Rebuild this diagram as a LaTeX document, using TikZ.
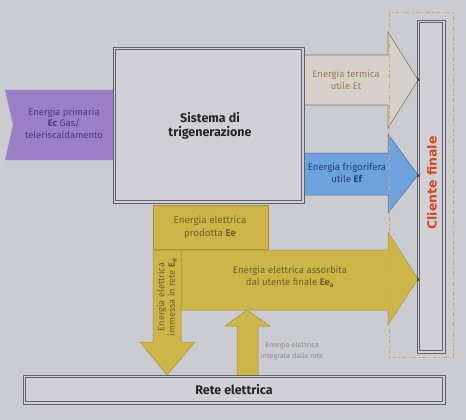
\documentclass[tikz,border=0pt]{standalone}
\usepackage{fontspec}
\setmainfont{Fira Sans}
\newfontfamily\boldsans{DejaVu Sans}
\definecolor{bg}{HTML}{CBCBD2}
\definecolor{boxfill}{HTML}{D0D0D6}
\definecolor{frame}{HTML}{626268}
\definecolor{purp}{HTML}{9A7EC6}
\definecolor{purptext}{HTML}{4A3A88}
\definecolor{bluefill}{HTML}{6EA2DE}
\definecolor{bluetext}{HTML}{1E3F7E}
\definecolor{yel}{HTML}{CDB54A}
\definecolor{yeledge}{HTML}{A8943A}
\definecolor{yeltext}{HTML}{6E6128}
\definecolor{beige}{HTML}{D6D2CB}
\definecolor{beigeedge}{HTML}{8A7A66}
\definecolor{beigetext}{HTML}{A07A50}
\definecolor{orng}{HTML}{E0A060}
\definecolor{redtext}{HTML}{D9461E}
\definecolor{smallgray}{HTML}{8C8C8C}
\begin{document}
\begin{tikzpicture}[x=1pt,y=-1pt,
  frameline/.style={draw=frame,line width=0.8pt},
  lbl/.style={align=center,inner sep=0pt,font=\fontsize{9.5}{11.5}\selectfont},
  blbl/.style={align=center,inner sep=0pt,font=\bfseries\fontsize{12.5}{14.5}\selectfont,text=black!85},
  yshape/.style={fill=yel,draw=yeledge,line width=0.5pt}]
\useasboundingbox (0,0) rectangle (466,420);
\fill[bg] (0,0) rectangle (466,420);
% primary energy arrow
\fill[purp] (5,90) -- (116,90) -- (116,160) -- (5,160) -- (13,125) -- cycle;
\node[lbl,text=purptext] (ep) at (64,123) {Energia primaria\\\textbf{Ec} Gas/\\teleriscaldamento};
% main box
\fill[boxfill] (113,47) rectangle (304,203);
\draw[frameline] (113,47) rectangle (304,203);
\draw[frameline,line width=0.5pt] (115.5,49.5) rectangle (301.5,200.5);
\node[blbl] (sis) at (210,126) {Sistema di\\trigenerazione};
% thermal arrow
\draw[fill=beige,draw=beigeedge,line width=0.6pt] (305,55) -- (388,55) -- (388,32) -- (418,80) -- (388,128) -- (388,105) -- (305,105);
\node[lbl] (et) at (346,80) {\textcolor{beigetext}{Energia termica}\\\textcolor{beigetext}{utile Et}};
% cooling arrow
\draw[fill=bluefill,draw=bluefill!70!black,line width=0.5pt] (305,153) -- (388,153) -- (388,134) -- (418,175) -- (388,213) -- (388,195) -- (305,195);
\node[lbl,text=bluetext,font=\fontsize{9.6}{11.5}\selectfont] (ef) at (347,173) {Energia frigorifera\\utile \textbf{Ef}};
% electric production box
\draw[yshape] (153,205) rectangle (268,249);
\node[lbl,text=yeltext,font=\fontsize{9.8}{12.5}\selectfont] (ee) at (210,227) {Energia elettrica\\prodotta \textbf{Ee}};
% electric to user arrow
\draw[yshape] (181,250) -- (388,250) -- (388,232) -- (418,279) -- (388,325) -- (388,310) -- (181,310) -- cycle;
\node[lbl,text=yeltext,font=\fontsize{9.6}{12}\selectfont] (eea) at (290,277) {Energia elettrica assorbita\\dal utente finale \textbf{Ee\textsubscript{a}}};
% electric to grid arrow (down)
\draw[yshape] (153,250) -- (181,250) -- (181,342) -- (195,342) -- (167,375) -- (140,342) -- (153,342) -- cycle;
\node[lbl,text=yeltext,rotate=90,font=\fontsize{9.2}{10.5}\selectfont] (eri) at (167,297) {Energia elettrica\\immessa in rete \textbf{E\textsubscript{ri}}};
% grid to user arrow (up)
\draw[yshape] (237,375) -- (237,326) -- (225,326) -- (247,310) -- (270,326) -- (258,326) -- (258,375);
\node[lbl,text=smallgray,font=\fontsize{7.2}{11}\selectfont] (eint) at (292,351) {Energia elettrica\\integrata dalla rete};
% grid box
\fill[boxfill] (23,375) rectangle (445,404);
\draw[frameline] (23,375) rectangle (445,404);
\draw[frameline,line width=0.5pt] (25.5,377.5) rectangle (442.5,401.5);
\node[blbl,font=\bfseries\fontsize{12.5}{14}\selectfont] (rete) at (234,390) {Rete elettrica};
% client box
\fill[boxfill] (417,20) rectangle (445,353);
\draw[frameline] (417,20) rectangle (445,353);
\draw[frameline,line width=0.5pt] (419.5,22.5) rectangle (442.5,350.5);
\node[blbl,text=redtext,rotate=90,font=\boldsans\bfseries\fontsize{12.5}{14}\selectfont] (cli) at (432,183) {Cliente finale};
% dashed boundary
\draw[orng,line width=1pt,dash pattern=on 4pt off 2.5pt on 1.2pt off 2.5pt] (389,13) rectangle (453,357);
% arrow tip marks
\foreach \p in {(418,80),(418,175),(418,279)} \fill[black!70] \p ++(-1.2,-1.5) rectangle ++(2.4,3);
\end{tikzpicture}
\end{document}
